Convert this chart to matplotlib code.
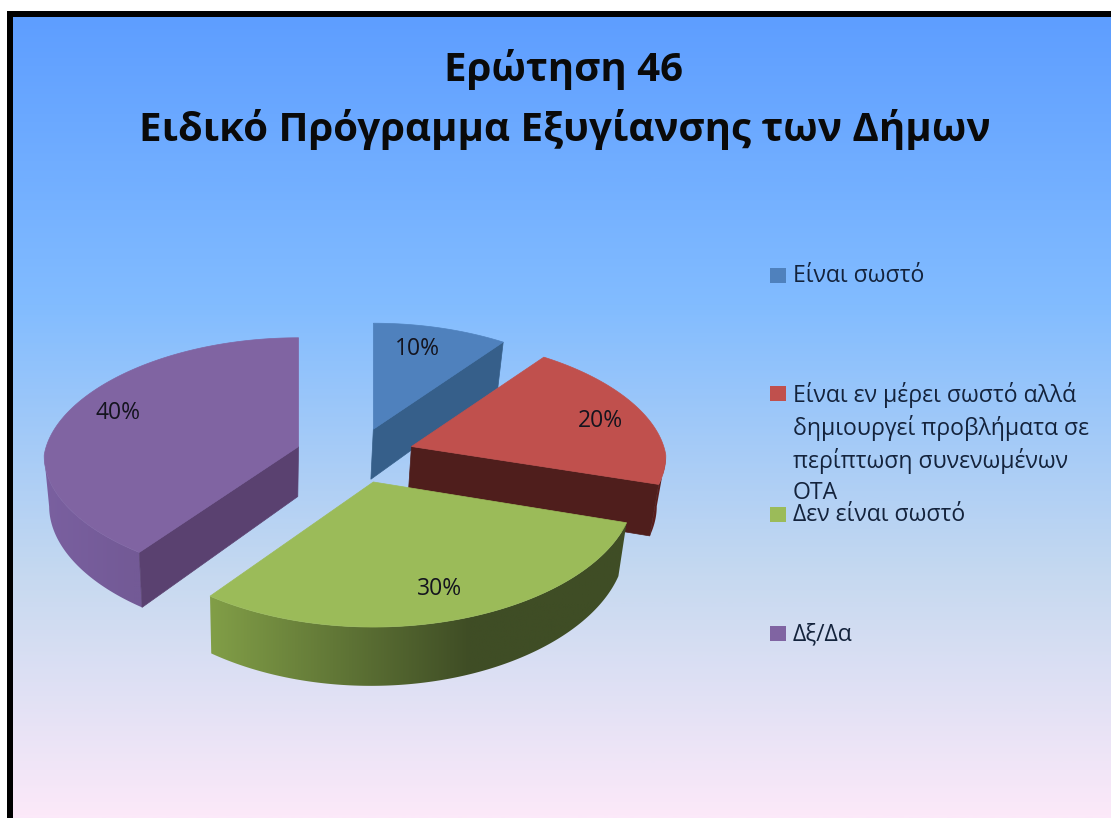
import numpy as np
import matplotlib
matplotlib.use("Agg")
import matplotlib.pyplot as plt
from matplotlib.colors import LinearSegmentedColormap
from matplotlib.patches import Polygon, Rectangle

title_lines = ["Ερώτηση 46", "Ειδικό Πρόγραμμα Εξυγίανσης των Δήμων"]
categories = ["Είναι σωστό",
              "Είναι εν μέρει σωστό αλλά\nδημιουργεί προβλήματα σε\nπερίπτωση συνενωμένων\nΟΤΑ",
              "Δεν είναι σωστό",
              "Δξ/Δα"]
values = [10, 20, 30, 40]
top_colors = ["#4F81BD", "#C0504D", "#9BBB59", "#8064A2"]
wall_colors = ["#365F8A", "#4F1E1C", "#3F4D25", "#5A4170"]
rim_gradients = {2: ("#819E47", "#3F4D25", 211, 470),
                 3: ("#7A60A0", "#735A96", 42, 133),
                 1: ("#5A1E1C", "#5A1E1C", 600, 670)}

plt.rcParams["font.family"] = ["Open Sans", "DejaVu Sans"]
W, H = 1111, 818
fig = plt.figure(figsize=(W / 100, H / 100), dpi=100, facecolor="white")
ax = fig.add_axes([0, 0, 1, 1])

# background panel
cmap = LinearSegmentedColormap.from_list("bg", [
    (0.0, "#5E9EFF"), (0.36, "#82BCFF"), (0.70, "#C6D9F0"), (1.0, "#FCE9F9")])
ax.imshow(np.linspace(0, 1, 400)[:, None], extent=(12, W, H, 16), cmap=cmap,
          aspect="auto", zorder=0, vmin=0, vmax=1)
ax.add_patch(Rectangle((7, 11), W, 5.5, fc="black", ec="none", zorder=1))
ax.add_patch(Rectangle((7, 11), 5.5, H, fc="black", ec="none", zorder=1))

# perspective pie
CX, CY, R_OFF, R, Q, EXPL, DEPTH = 355, 455, 258, 255, 120, 0.23, 50
BOTTOM_SHRINK, BOTTOM_CX = 0.0225, 264


def scale(Y, up, down):
    return 1 / (1 + np.where(Y > 0, up, down) * Y)


def slice_pts(mid, th):
    ox, oy = EXPL * np.sin(mid), EXPL * np.cos(mid)
    Y = oy + np.cos(th)
    sx = scale(Y, 0.15, 0.08)
    sy = scale(Y, 0.09, 0.123)
    return CX + R_OFF * ox + R * np.sin(th) * sx, CY - Q * Y * sy, sy


def apex(mid):
    ox, oy = EXPL * np.sin(mid), EXPL * np.cos(mid)
    return CX + R_OFF * ox, CY - Q * oy * float(scale(np.array(oy), 0.09, 0.123))


def lower(x):
    return x + (BOTTOM_CX - x) * BOTTOM_SHRINK


edges = np.cumsum([0] + values) / sum(values) * 2 * np.pi
mids = (edges[:-1] + edges[1:]) / 2
z = 5
for i in [3, 0, 1, 2]:
    a, b, mid = edges[i], edges[i + 1], mids[i]
    th = np.linspace(a, b, 200)
    x, y, s = slice_pts(mid, th)
    ax_, ay_ = apex(mid)

    # outer rim, front-facing part only (up to the silhouette point)
    if i in rim_gradients:
        keep = np.ones_like(th, dtype=bool)
        if i == 3:
            keep[np.argmin(x) + 1:] = False
        elif i == 1:
            keep[:np.argmax(x)] = False
        xr, yr, sr = x[keep], y[keep], s[keep]
        c0, c1, x0, x1 = rim_gradients[i]
        poly = Polygon(np.r_[np.column_stack([xr, yr]),
                             np.column_stack([lower(xr), yr + DEPTH * sr])[::-1]],
                       fc="none", ec="none", transform=ax.transData)
        ax.add_patch(poly)
        grad = LinearSegmentedColormap.from_list("g", [c0, c1])
        xl, xh = xr.min() - 12, xr.max() + 12
        ramp = np.clip((np.linspace(xl, xh, 300) - x0) / (x1 - x0), 0, 1)
        im = ax.imshow(ramp[None, :], extent=(xl, xh, (yr + DEPTH * sr).max() + 2, yr.min() - 2),
                       cmap=grad, vmin=0, vmax=1, aspect="auto", zorder=z)
        im.set_clip_path(poly)
        z += 1

    # radial wall facing the viewer
    if i != 2:
        ex, ey, es = (x[0], y[0], s[0]) if i == 3 else (x[-1], y[-1], s[-1])
        ax.add_patch(Polygon([(ax_, ay_), (ex, ey), (lower(ex), ey + DEPTH * es),
                              (lower(ax_), ay_ + DEPTH)],
                             fc=wall_colors[i], ec=wall_colors[i], lw=0.5, zorder=z))
        z += 1

    # top face
    ax.add_patch(Polygon(np.column_stack([np.r_[ax_, x], np.r_[ay_, y]]),
                         fc=top_colors[i], ec=top_colors[i], lw=0.5, zorder=z))
    z += 1

# percentage labels
pct_pos = [(417, 349), (600, 421), (440, 589), (118, 413)]
for v, (px, py) in zip(values, pct_pos):
    ax.text(px, py, f"{v}%", ha="center", va="center", fontsize=16.5,
            color="#14141e", zorder=50)

# title
ax.text(564, 70, title_lines[0], ha="center", va="center", fontsize=29,
        fontweight="bold", color="#0a0a0a", zorder=50)
ax.text(565, 129, title_lines[1], ha="center", va="center", fontsize=29,
        fontweight="bold", color="#0a0a0a", zorder=50)

# legend
leg_y = [275, 393, 514, 633]
for c, cat, ly in zip(top_colors, categories, leg_y):
    ax.add_patch(Rectangle((770, ly - 7), 16, 15, fc=c, ec="none", zorder=50))
    ax.text(793, ly - 11, cat, ha="left", va="top", fontsize=16.6, color="#14233c",
            linespacing=1.36, zorder=50)

ax.set_xlim(0, W)
ax.set_ylim(H, 0)
ax.axis("off")
fig.savefig("out.png", dpi=100)
